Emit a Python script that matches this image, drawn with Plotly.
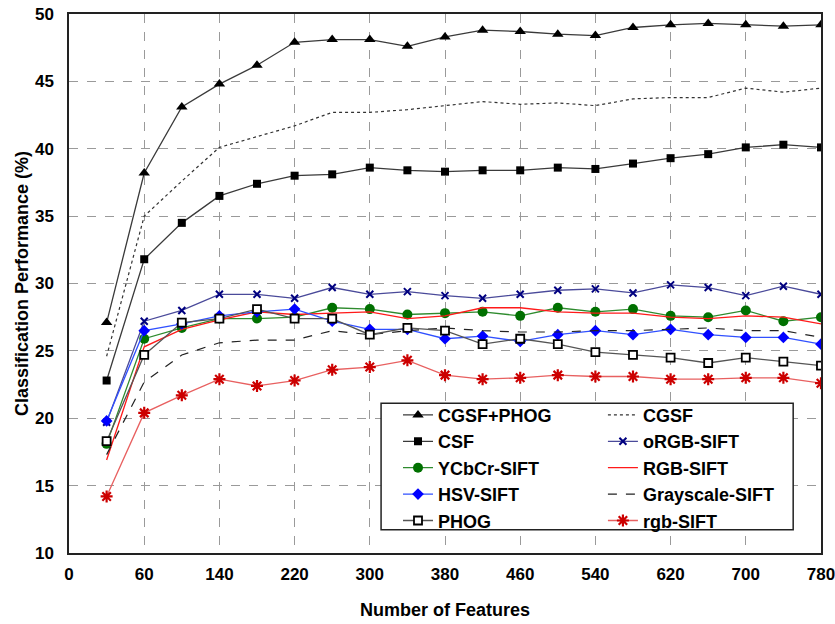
import plotly.graph_objects as go

features = [20, 60, 100, 140, 180, 220, 260, 300, 340, 380, 420, 460, 500, 540, 580, 620, 660, 700, 740, 780]
tick_labels = ["0", "60", "140", "220", "300", "380", "460", "540", "620", "700", "780"]

cgsf_phog = [27.1, 38.2, 43.1, 44.8, 46.2, 47.9, 48.1, 48.1, 47.6, 48.3, 48.8, 48.7, 48.5, 48.4, 49.0, 49.2, 49.3, 49.2, 49.1, 49.2]
cgsf = [24.6, 35.0, 37.6, 40.1, 40.9, 41.7, 42.7, 42.7, 42.9, 43.2, 43.5, 43.3, 43.4, 43.2, 43.7, 43.8, 43.8, 44.5, 44.2, 44.5]
csf = [22.8, 31.8, 34.5, 36.5, 37.4, 38.0, 38.1, 38.6, 38.4, 38.3, 38.4, 38.4, 38.6, 38.5, 38.9, 39.3, 39.6, 40.1, 40.3, 40.1]
orgb_sift = [19.7, 27.2, 28.0, 29.2, 29.2, 28.9, 29.7, 29.2, 29.4, 29.1, 28.9, 29.2, 29.5, 29.6, 29.3, 29.9, 29.7, 29.1, 29.8, 29.2]
ycbcr_sift = [18.1, 25.9, 26.7, 27.4, 27.4, 27.5, 28.2, 28.1, 27.7, 27.8, 27.9, 27.6, 28.2, 27.9, 28.1, 27.6, 27.5, 28.0, 27.2, 27.5]
rgb_sift_upper = [16.9, 25.3, 26.6, 27.3, 27.9, 27.7, 27.8, 27.9, 27.4, 27.6, 28.2, 28.2, 27.9, 27.8, 27.8, 27.5, 27.4, 27.6, 27.5, 27.0]
hsv_sift = [19.8, 26.5, 27.0, 27.6, 27.9, 28.1, 27.2, 26.6, 26.6, 25.9, 26.1, 25.7, 26.2, 26.5, 26.2, 26.6, 26.2, 26.0, 26.0, 25.5]
gray_sift = [17.3, 22.7, 24.7, 25.6, 25.8, 25.8, 26.5, 26.2, 26.5, 26.7, 26.5, 26.4, 26.4, 26.5, 26.5, 26.6, 26.7, 26.5, 26.5, 26.0]
phog = [18.3, 24.7, 27.1, 27.4, 28.1, 27.4, 27.4, 26.2, 26.7, 26.5, 25.5, 25.9, 25.5, 24.9, 24.7, 24.5, 24.1, 24.5, 24.2, 23.9]
rgb_sift_lower = [14.2, 20.4, 21.7, 22.9, 22.4, 22.8, 23.6, 23.8, 24.3, 23.2, 22.9, 23.0, 23.2, 23.1, 23.1, 22.9, 22.9, 23.0, 23.0, 22.6]

# category-style positions: one slot per feature count, tick labels every other slot
pos = list(range(len(features)))
tick_pos = [-1] + [i for i, f in enumerate(features) if str(f) in tick_labels]

FONT = "Liberation Sans, Arial, sans-serif"

# (name, values, line, marker, legend column)
series = [
    ("CGSF+PHOG", cgsf_phog, dict(color="#3a3a3a", width=1.3), dict(symbol="triangle-up", size=10, color="black"), "legend"),
    ("CGSF", cgsf, dict(color="#333333", width=1.2, dash="dot"), None, "legend2"),
    ("CSF", csf, dict(color="#3a3a3a", width=1.3), dict(symbol="square", size=8, color="black"), "legend"),
    ("oRGB-SIFT", orgb_sift, dict(color="#4a4a9a", width=1.3), dict(symbol="x-thin-open", size=7, color="#000080", line=dict(width=2, color="#000080")), "legend2"),
    ("YCbCr-SIFT", ycbcr_sift, dict(color="#2e8b2e", width=1.3), dict(symbol="circle", size=10, color="#007000"), "legend"),
    ("RGB-SIFT", rgb_sift_upper, dict(color="#ff1a1a", width=1.3), None, "legend2"),
    ("HSV-SIFT", hsv_sift, dict(color="#3050ff", width=1.3), dict(symbol="diamond", size=9, color="#0000ff"), "legend"),
    ("Grayscale-SIFT", gray_sift, dict(color="#222222", width=1.2, dash="dash"), None, "legend2"),
    ("PHOG", phog, dict(color="#555555", width=1.3), dict(symbol="square", size=8, color="white", line=dict(width=1.8, color="black")), "legend"),
    ("rgb-SIFT", rgb_sift_lower, dict(color="#e86060", width=1.3), dict(symbol="asterisk-open", size=10, color="#cc0000", line=dict(width=2.2, color="#cc0000")), "legend2"),
]

fig = go.Figure()
for name, vals, line, marker, lg in series:
    fig.add_trace(go.Scatter(
        x=pos, y=vals, name=name,
        mode="lines+markers" if marker else "lines",
        line=line, marker=marker, legend=lg,
        customdata=features,
        hovertemplate="%{customdata}: %{y}<extra>" + name + "</extra>",
    ))

grid = dict(showgrid=True, gridcolor="#9a9a9a", griddash="dash", gridwidth=1)
legend_common = dict(
    orientation="v", xanchor="left", yanchor="top",
    bgcolor="rgba(0,0,0,0)", borderwidth=0,
    font=dict(family=FONT, size=18, color="black", weight="bold"),
    itemwidth=30, tracegroupgap=0,
)
fig.update_layout(
    width=835, height=624,
    margin=dict(l=69, r=14, t=14, b=71, autoexpand=False),
    paper_bgcolor="white", plot_bgcolor="white",
    font=dict(family=FONT, size=18, color="black"),
    showlegend=True,
    legend=dict(x=0.4375, y=0.29, **legend_common),
    legend2=dict(x=0.710, y=0.29, **legend_common),
    shapes=[dict(
        type="rect", xref="paper", yref="paper",
        x0=0.415, x1=0.963, y0=0.043, y1=0.278,
        fillcolor="white", line=dict(color="#222222", width=1.5), layer="above",
    )],
    xaxis=dict(
        range=[-1.0005, len(features) - 1 + 0.0005], tickmode="array", tickvals=tick_pos, ticktext=tick_labels,
        showline=True, linecolor="#222222", linewidth=1.5, mirror=True, zeroline=False,
        ticks="", ticklabelstandoff=5, ticklabeloverflow="allow",
        tickfont=dict(family=FONT, size=17, weight="bold"),
        title=dict(text="Number of Features", font=dict(family=FONT, size=18, weight="bold"), standoff=20),
        **grid,
    ),
    yaxis=dict(
        range=[10, 50], tickmode="linear", tick0=10, dtick=5,
        showline=True, linecolor="#222222", linewidth=1.5, mirror=True, zeroline=False,
        ticks="", ticklabelstandoff=10, ticklabeloverflow="allow",
        tickfont=dict(family=FONT, size=17, weight="bold"),
        title=dict(text="Classification Performance (%)", font=dict(family=FONT, size=18, weight="bold"), standoff=2),
        **grid,
    ),
)

fig.write_html("out.html", config={"displayModeBar": False},
               post_script="document.body.style.margin='0';")
